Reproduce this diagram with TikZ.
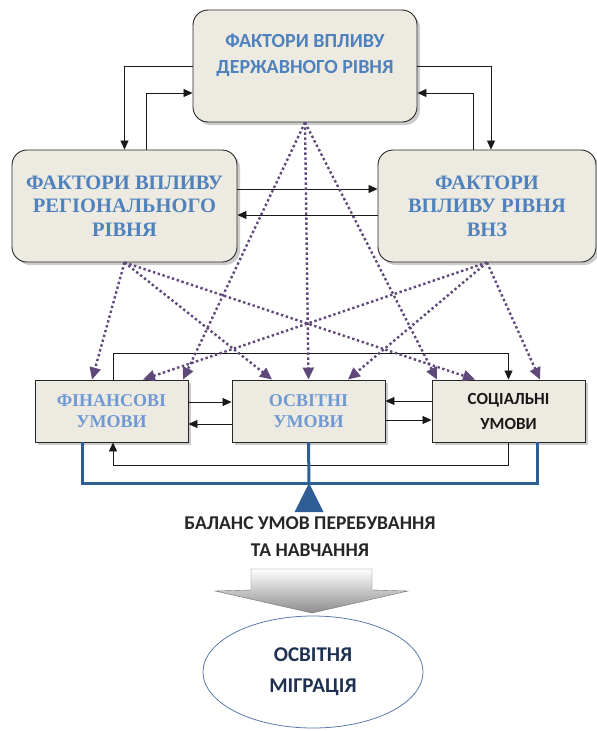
\documentclass[tikz,border=0pt]{standalone}
\usepackage{fontspec}
\setmainfont{Liberation Serif}
\newfontfamily\timesfont{Liberation Serif}
\newfontfamily\calibrifont{Carlito}
\usepackage{tikz}
\usetikzlibrary{positioning, arrows.meta, shapes.geometric, shadows}
\definecolor{boxfill}{HTML}{EDEBE1}
\definecolor{factorblue}{HTML}{4F81BD}
\definecolor{condblue}{HTML}{7099D3}
\definecolor{dotpurple}{HTML}{5F497A}
\definecolor{beamblue}{HTML}{2F5D95}
\definecolor{ovaledge}{HTML}{5A7AB0}
\definecolor{ovaltext}{HTML}{1F3050}
\tikzset{
factor/.style={draw=black!85, line width=0.9pt, fill=boxfill, rounded corners=15pt, minimum height=112pt, align=center, drop shadow={shadow xshift=3pt, shadow yshift=-3pt, fill=black!40}}, % the three rounded boxes
cond/.style={draw=black!85, line width=0.9pt, fill=boxfill, minimum width=153pt, minimum height=62pt, align=center, drop shadow={shadow xshift=3pt, shadow yshift=-3pt, fill=black!40}}, % the three conditions
link/.style={-{Triangle[length=9pt,width=8pt]}, black!90, line width=0.8pt}, % solid connectors
influence/.style={-{Triangle[length=12pt,width=11pt]}, dotpurple, line width=2.4pt, dash pattern=on 2.4pt off 2.6pt}, % dotted influences
balance/.style={beamblue, line width=3pt},
}

\begin{document}
\begin{tikzpicture}[x=1pt, y=-1pt]
    \useasboundingbox (0,0) rectangle (597,731);
    % factor boxes
    \node[factor, minimum width=224pt] (gov) at (305,66) {};
    \node[font=\calibrifont\bfseries\fontsize{20}{26}\selectfont, text=factorblue, align=center] (govtext) at (305,55) {ФАКТОРИ ВПЛИВУ\\ДЕРЖАВНОГО РІВНЯ};
    \node[factor, minimum width=225pt, font=\timesfont\bfseries\fontsize{20.5}{23.5}\selectfont, text=factorblue] (reg) at (124.5,206) {ФАКТОРИ ВПЛИВУ\\РЕГІОНАЛЬНОГО\\РІВНЯ};
    \node[factor, minimum width=218pt, font=\timesfont\bfseries\fontsize{20.5}{23.5}\selectfont, text=factorblue] (vnz) at (487,206) {ФАКТОРИ\\ВПЛИВУ РІВНЯ\\ВНЗ};
    % conditions
    \node[cond, font=\timesfont\bfseries\fontsize{18}{21}\selectfont, text=condblue] (fin) at (111.5,411) {ФІНАНСОВІ\\УМОВИ};
    \node[cond, font=\timesfont\bfseries\fontsize{18}{21}\selectfont, text=condblue] (osv) at (308.5,411) {ОСВІТНІ\\УМОВИ};
    \node[cond, font=\calibrifont\bfseries\fontsize{17}{25}\selectfont, text=black!90] (soc) at (508.5,411) {СОЦІАЛЬНІ\\УМОВИ};

    % links between factors
    \draw[link] (gov.west) -| (reg.north);
    \draw[link] ([xshift=22pt]reg.north) |- ([yshift=-27pt]gov.west);
    \draw[link] (gov.east) -| ([xshift=4pt]vnz.north);
    \draw[link] ([xshift=-14pt]vnz.north) |- ([yshift=-27pt]gov.east);
    \draw[link] ([yshift=17pt]reg.east) -- ([yshift=17pt]vnz.west);
    \draw[link] ([yshift=-9pt]vnz.west) -- ([yshift=-9pt]reg.east);

    % links between conditions
    \draw[link] ([yshift=9pt]fin.east) -- ([yshift=9pt]osv.west);
    \draw[link] ([yshift=-13pt]osv.west) -- ([yshift=-13pt]fin.east);
    \draw[link] ([yshift=10pt]soc.west) -- ([yshift=10pt]osv.east);
    \draw[link] ([yshift=-9pt]osv.east) -- ([yshift=-9pt]soc.west);
    \draw[link] ([xshift=1.5pt]fin.north) -- ++(0,-26) -| (soc.north);
    \draw[link] (soc.south) -- ++(0,23) -| ([xshift=1.5pt]fin.south);

    % influences
    \draw[influence] (gov.south) -- ([xshift=71.5pt]fin.north);
    \draw[influence] (gov.south) -- (osv.north);
    \draw[influence] (gov.south) -- ([xshift=-71.5pt]soc.north);
    \draw[influence] (reg.south) -- ([xshift=-19.5pt]fin.north);
    \draw[influence] (reg.south) -- ([xshift=-36.5pt]osv.north);
    \draw[influence] (reg.south) -- ([xshift=-33.5pt]soc.north);
    \draw[influence] (vnz.south) -- ([xshift=31.5pt]fin.north);
    \draw[influence] (vnz.south) -- ([xshift=39.5pt]osv.north);
    \draw[influence] (vnz.south) -- ([xshift=31.5pt]soc.north);

    % balance beam
    \coordinate (pivot) at (309,483);
    \draw[balance] ([xshift=-29.5pt]fin.south) |- (pivot) -| ([xshift=28.5pt]soc.south);
    \draw[balance] (osv.south) -- (pivot);
    \fill[beamblue] (pivot) -- ++(-14.5,29) -- ++(29,0) -- cycle;
    \node[font=\calibrifont\bfseries\fontsize{19.5}{27}\selectfont, text=black!85, align=center] (balancetext) at (310,537) {БАЛАНС УМОВ ПЕРЕБУВАННЯ\\ТА НАВЧАННЯ};

    % block arrow and result
    \draw[black!55, top color=white, bottom color=black!45] (251,569) -- (372,569) -- (372,590) -- (408,591) -- (312,613) -- (215,591) -- (251,590) -- cycle;
    \node[ellipse, draw=ovaledge, line width=0.8pt, fill=white, minimum width=220pt, minimum height=112pt, align=center, font=\calibrifont\bfseries\fontsize{21}{31}\selectfont, text=ovaltext] (migration) at (313,672) {ОСВІТНЯ\\МІГРАЦІЯ};
\end{tikzpicture}
\end{document}
